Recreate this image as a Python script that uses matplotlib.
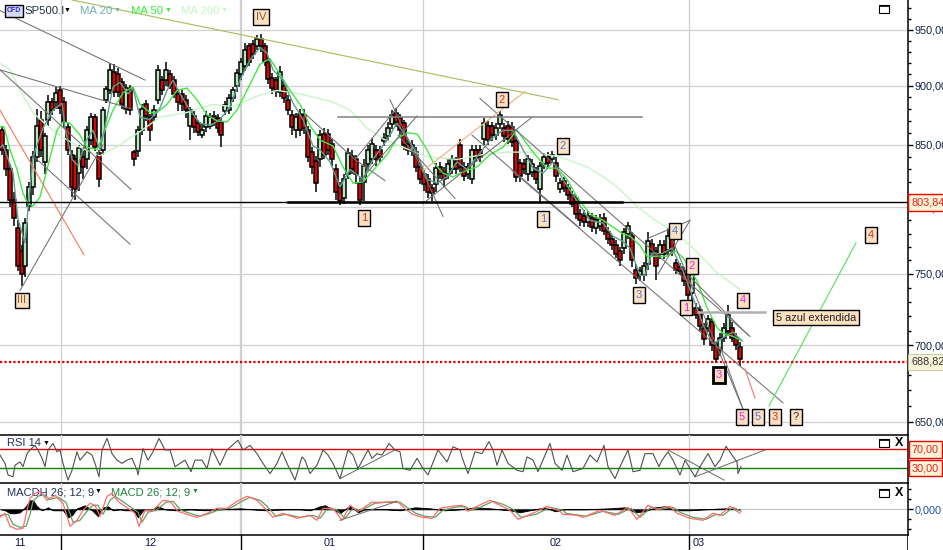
import matplotlib
matplotlib.use("Agg")
import matplotlib.pyplot as plt
from matplotlib.patches import Rectangle

plt.rcParams["font.family"] = ["Liberation Sans", "DejaVu Sans"]

W, H = 943, 550

# candles
bar_t = [2, 6, 10, 14, 18, 22, 25, 29, 33, 37, 41, 45, 48, 52, 56, 60, 64, 68, 72, 75,
         79, 83, 87, 91, 95, 99, 103, 106, 110, 114, 118, 122, 126, 130, 134, 138, 142, 146, 150, 154,
         158, 162, 166, 170, 174, 178, 182, 186, 190, 194, 198, 202, 206, 210, 214, 218, 221, 225, 229, 233,
         237, 241, 245, 249, 253, 257, 261, 265, 268, 272, 276, 280, 284, 288, 292, 296, 300, 304, 308, 312,
         316, 320, 324, 328, 332, 336, 340, 344, 348, 352, 356, 360, 364, 368, 372, 376, 380, 384, 388, 392,
         396, 400, 404, 408, 412, 416, 420, 424, 428, 432, 436, 440, 444, 448, 452, 456, 460, 464, 468, 472,
         476, 480, 484, 488, 492, 496, 500, 504, 508, 512, 516, 520, 524, 528, 532, 536, 540, 544, 548, 552,
         556, 560, 564, 568, 572, 576, 580, 584, 588, 592, 596, 600, 604, 608, 612, 616, 620, 624, 628, 632,
         636, 640, 644, 648, 652, 656, 660, 664, 668, 672, 676, 680, 684, 688, 692, 696, 700, 704, 708, 712,
         716, 720, 724, 728, 732, 736, 740]
bar_open = [862, 846, 830, 806, 784, 767, 756, 801, 816, 840, 871, 836, 871, 886, 886, 896, 886, 865, 842, 838,
            827, 840, 838, 854, 873, 843, 846, 888, 896, 912, 910, 903, 880, 897, 844, 845, 862, 884, 873, 873,
            888, 905, 905, 910, 905, 893, 893, 888, 866, 874, 868, 858, 865, 866, 874, 872, 869, 878, 879, 889,
            900, 910, 917, 935, 937, 935, 942, 935, 921, 907, 905, 895, 900, 888, 875, 862, 876, 875, 862, 844,
            837, 838, 859, 859, 851, 830, 816, 807, 826, 841, 838, 819, 820, 834, 838, 846, 846, 853, 857, 867,
            877, 872, 868, 851, 845, 844, 832, 826, 822, 815, 818, 832, 828, 826, 830, 836, 850, 832, 826, 822,
            846, 846, 855, 866, 866, 858, 867, 864, 866, 865, 853, 835, 834, 826, 828, 828, 814, 834, 840, 838,
            835, 814, 821, 815, 810, 807, 795, 793, 789, 792, 784, 786, 792, 781, 776, 771, 767, 769, 780, 778,
            753, 749, 749, 757, 772, 767, 765, 771, 768, 776, 758, 755, 752, 749, 736, 726, 724, 712, 712, 716,
            700, 697, 705, 710, 712, 705, 699]
bar_close = [846, 830, 806, 792, 756, 750, 788, 816, 840, 866, 846, 857, 886, 879, 894, 881, 869, 846, 816, 814,
             847, 832, 862, 873, 848, 822, 879, 897, 914, 895, 895, 884, 898, 879, 838, 862, 880, 874, 862, 879,
             914, 896, 914, 900, 893, 886, 884, 879, 879, 865, 861, 862, 874, 873, 869, 864, 858, 883, 889, 896,
             911, 921, 932, 921, 928, 942, 935, 921, 906, 898, 896, 912, 889, 879, 865, 873, 862, 864, 840, 832,
             819, 858, 842, 846, 838, 812, 805, 822, 843, 830, 826, 806, 833, 846, 851, 838, 840, 856, 864, 875,
             869, 862, 850, 846, 850, 832, 822, 818, 812, 811, 831, 826, 822, 834, 838, 830, 832, 825, 832, 846,
             839, 840, 868, 854, 858, 864, 875, 857, 855, 852, 824, 825, 830, 838, 834, 822, 833, 840, 835, 842,
             825, 819, 815, 810, 803, 795, 790, 789, 793, 785, 790, 791, 782, 776, 771, 765, 760, 781, 786, 760,
             747, 752, 756, 774, 767, 756, 771, 765, 778, 767, 753, 752, 745, 735, 751, 721, 713, 704, 718, 700,
             691, 705, 712, 721, 705, 700, 691]
bar_high = [866, 850, 834, 812, 790, 771, 792, 820, 845, 880, 878, 860, 892, 889, 899, 900, 890, 868, 846, 842,
            850, 845, 866, 877, 876, 846, 882, 900, 920, 919, 916, 907, 902, 901, 846, 866, 884, 888, 876, 883,
            918, 909, 921, 914, 909, 897, 897, 892, 882, 878, 871, 868, 878, 877, 878, 876, 872, 887, 893, 899,
            915, 925, 938, 938, 941, 945, 946, 938, 925, 911, 908, 917, 903, 892, 879, 877, 880, 880, 866, 848,
            841, 862, 864, 863, 855, 834, 820, 826, 847, 846, 842, 824, 838, 850, 856, 850, 849, 860, 869, 879,
            881, 876, 871, 855, 854, 848, 836, 830, 826, 818, 835, 836, 832, 838, 842, 840, 855, 836, 835, 850,
            850, 850, 872, 870, 869, 868, 878, 868, 870, 869, 857, 838, 838, 842, 838, 832, 836, 843, 844, 845,
            840, 823, 824, 818, 813, 810, 799, 798, 797, 796, 794, 795, 796, 785, 779, 775, 770, 784, 789, 781,
            757, 755, 759, 781, 776, 770, 775, 775, 784, 780, 761, 758, 755, 752, 755, 729, 727, 715, 721, 719,
            702, 708, 715, 728, 716, 708, 702]
bar_low = [842, 825, 800, 786, 752, 741, 748, 797, 810, 836, 840, 826, 866, 875, 880, 876, 864, 842, 808, 806,
           813, 822, 830, 850, 845, 816, 842, 885, 893, 890, 890, 880, 876, 875, 833, 840, 858, 870, 853, 870,
           884, 892, 900, 897, 889, 878, 878, 872, 854, 860, 857, 856, 861, 863, 866, 860, 848, 875, 876, 886,
           895, 905, 913, 917, 924, 932, 930, 917, 902, 893, 890, 890, 885, 875, 858, 856, 857, 859, 836, 826,
           812, 832, 838, 842, 833, 806, 802, 803, 822, 826, 818, 802, 805, 829, 834, 833, 836, 849, 853, 863,
           865, 858, 846, 842, 841, 828, 818, 813, 807, 805, 812, 822, 816, 822, 826, 826, 828, 821, 822, 818,
           836, 836, 850, 850, 853, 854, 863, 852, 851, 848, 820, 820, 826, 821, 824, 818, 804, 830, 832, 835,
           820, 811, 812, 806, 800, 791, 786, 785, 785, 781, 780, 782, 779, 772, 768, 762, 756, 765, 776, 755,
           743, 745, 745, 753, 763, 746, 761, 761, 764, 763, 750, 749, 741, 727, 730, 718, 710, 700, 709, 696,
           688, 693, 702, 707, 702, 697, 686]

ma50_t = [0, 4, 10, 17, 23, 28, 33, 40, 47, 57, 63, 70, 80, 87, 97, 103, 113, 123, 133, 140, 150, 157, 167, 177, 187,
          197, 207, 217, 227, 237, 247, 260, 270, 280, 290, 300, 310, 320, 333, 343, 353, 363, 373, 387, 397, 407, 417,
          427, 433, 443, 453, 463, 477, 490, 503, 517, 533, 547, 557, 567, 577, 590, 603, 613, 622, 630, 640, 647, 657,
          667, 675, 683, 697, 707, 717, 723, 733, 742]
ma50 = [865, 865, 846, 830, 811, 803, 801, 808, 830, 862, 869, 868, 858, 848, 846, 858, 879, 894, 899, 884, 877, 877, 884, 896, 898,
        888, 875, 870, 869, 879, 896, 919, 924, 910, 896, 884, 866, 854, 849, 832, 819, 820, 829, 842, 855, 860, 859,
        846, 836, 827, 824, 828, 832, 842, 848, 862, 844, 831, 831, 822, 808, 795, 790, 785, 780, 778, 771, 763, 763,
        763, 767, 762, 745, 726, 712, 708, 706, 703]

ma20_t = [0, 3, 13, 18, 25, 28, 33, 43, 53, 62, 65, 72, 78, 85, 93, 100, 107, 113, 120, 128, 133, 140, 150, 160, 167,
          173, 180, 190, 200, 210, 220, 230, 240, 250, 260, 267, 273, 283, 293, 303, 313, 320, 330, 340, 350, 363, 373,
          387, 397, 407, 417, 427, 437, 447, 457, 467, 477, 490, 503, 513, 523, 533, 543, 553, 563, 577, 590, 603, 613,
          623, 630, 640, 645, 652, 662, 672, 683, 693, 703, 713, 723, 733, 742]
ma20 = [848, 850, 827, 791, 773, 799, 840, 864, 879, 885, 864, 838, 833, 852, 862, 846, 873, 899, 903, 893, 898, 873, 871, 881, 896,
        905, 893, 879, 868, 866, 871, 882, 905, 923, 934, 929, 914, 905, 885, 871, 849, 846, 836, 816, 830, 822, 838,
        854, 868, 856, 843, 822, 819, 824, 836, 830, 840, 854, 862, 862, 846, 831, 827, 836, 822, 805, 790, 788, 778,
        774, 769, 749, 749, 765, 765, 769, 752, 733, 714, 701, 705, 709, 703]

ma200_t = [0, 10, 20, 33, 47, 63, 80, 100, 120, 140, 160, 187, 213, 233, 257, 277, 300, 333, 350, 367, 383, 403, 427, 457, 483,
           507, 533, 560, 587, 607, 620, 637, 653, 673, 693, 717, 740]
ma200 = [920, 914, 896, 877, 866, 856, 848, 841, 850, 861, 873, 877, 884, 882, 891, 896, 893, 886, 879, 864, 855, 848, 840, 838, 842,
         844, 844, 840, 832, 822, 814, 801, 791, 782, 769, 751, 739]

rsi_t = [0, 5, 8, 13, 15, 20, 23, 27, 30, 35, 38, 42, 45, 48, 53, 57, 60, 63, 68, 72, 77, 80, 87, 92, 95, 99, 102, 107, 112, 117,
         122, 127, 132, 137, 138, 143, 148, 153, 159, 165, 170, 175, 180, 185, 191, 195, 202, 207, 212, 220, 227, 238, 243, 250,
         257, 263, 270, 277, 282, 287, 295, 302, 305, 310, 317, 323, 328, 333, 340, 348, 353, 358, 368, 372, 377, 382, 389, 395,
         400, 403, 410, 417, 423, 428, 438, 447, 453, 460, 463, 468, 475, 482, 489, 493, 497, 502, 508, 517, 523, 527, 533, 538,
         550, 555, 562, 567, 573, 583, 590, 597, 604, 608, 615, 620, 628, 633, 640, 645, 653, 659, 662, 668, 673, 680, 685, 690,
         695, 700, 708, 715, 720, 726, 732, 737, 738, 741]
rsi = [58, 40, 15, 11, 36, 43, 33, 61, 69, 79, 69, 51, 33, 69, 83, 65, 69, 40, 4, 25, 65, 47, 65, 58, 40, 11, 69, 94, 61, 47,
       40, 47, 51, 25, 15, 72, 47, 65, 94, 69, 69, 33, 40, 47, 22, 47, 47, 29, 72, 36, 69, 90, 69, 79,
       61, 40, 18, 40, 65, 40, 4, 54, 47, 18, 36, 69, 58, 40, 7, 69, 58, 29, 69, 51, 61, 58, 83, 69,
       65, 29, 25, 51, 29, 15, 69, 43, 76, 69, 47, 18, 65, 61, 87, 69, 36, 69, 40, 25, 22, 54, 47, 22,
       83, 40, 25, 58, 22, 29, 58, 43, 79, 33, 7, 33, 69, 22, 25, 61, 61, 33, 47, 65, 47, 15, 47, 29,
       11, 33, 61, 33, 47, 77, 58, 43, 18, 33]

macd_t = [0, 5, 10, 17, 23, 27, 30, 35, 40, 47, 55, 63, 70, 77, 83, 90, 95, 100, 107, 112, 118, 128, 135, 139, 145, 153,
          163, 170, 178, 190, 197, 207, 217, 227, 237, 247, 257, 263, 273, 283, 297, 310, 317, 323, 333, 342, 350, 358, 372,
          383, 397, 407, 413, 422, 432, 440, 452, 462, 468, 477, 490, 500, 510, 518, 533, 547, 560, 563, 577, 583, 600, 615,
          628, 637, 648, 657, 670, 677, 690, 703, 713, 720, 730, 740]
macd = [-8, -4, -17, -20, -19, -1, 11, 16, 18, 9, 14, 6, -17, -11, -1, 6, 4, -7, 13, 16, 8, 1, -4, -17, -1, -1,
        9, 8, -2, -6, -8, -4, 1, 1, 8, 13, 9, 3, -8, -4, -9, -6, -11, 1, 1, -11, 4, -2, 7,
        7, 8, -1, -5, -8, -9, 1, 3, 4, -2, 3, 9, 4, -1, -10, -4, 3, -2, -5, -6, -8, -1, -6,
        2, -10, 4, 0, 3, -4, -9, -11, -4, -6, 3, -4]

signal_t = [0, 8, 13, 20, 26, 30, 33, 38, 43, 50, 58, 66, 73, 80, 86, 93, 98, 103, 110, 115, 121, 131, 138, 142, 148, 156,
            166, 173, 181, 193, 200, 210, 220, 230, 240, 250, 260, 266, 276, 286, 300, 313, 320, 326, 336, 345, 353, 361, 375,
            386, 400, 410, 416, 425, 435, 443, 455, 465, 471, 480, 493, 503, 513, 521, 536, 550, 563, 566, 580, 586, 603, 618,
            631, 640, 651, 660, 673, 680, 693, 706, 716, 723, 733, 741]
signal = [-6, -5, -15, -18, -17, -5, 8, 13, 15, 10, 12, 7, -13, -11, -3, 4, 4, -5, 9, 13, 9, 2, -3, -13, -3, -1,
          7, 8, -1, -5, -7, -4, 0, 1, 7, 12, 9, 4, -7, -5, -8, -6, -9, -1, 0, -9, 1, -1, 6,
          7, 7, 0, -4, -7, -8, -1, 2, 3, -1, 2, 8, 5, 0, -8, -5, 2, -1, -4, -6, -7, -2, -5,
          1, -8, 2, 0, 2, -3, -8, -10, -5, -6, 2, -2]

hist_t = [0, 5, 10, 15, 20, 25, 30, 33, 37, 42, 48, 53, 63, 68, 72, 77, 85, 92, 98, 103, 108, 113, 120, 125, 133, 138, 143, 150,
          158, 165, 175, 190, 205, 220, 240, 265, 285, 300, 310, 320, 325, 333, 340, 345, 350, 358, 365, 385, 400, 415, 430, 445, 460,
          475, 490, 510, 520, 530, 545, 555, 565, 585, 610, 625, 635, 645, 655, 665, 675, 690, 705, 725, 740]
hist = [0, -1, -4, -4, -3, 2, 9, 9, 3, -1, 2, -1, -1, -8, -6, 1, 4, -1, -7, 2, 3, -1, 0, -1, -1, -8, -1, -1,
        3, 0, -1, 0, -1, 0, 1, -1, 0, 0, -1, 3, 4, 0, -4, 0, 4, -3, 0, 0, -1, 2, 1, -1, 0,
        2, 1, -1, -3, -1, 2, -2, 0, 0, 1, 2, -3, -2, 2, 3, -1, -1, 0, 1, 0]

# trend lines: x0, price0, x1, price1
gray_lines = [(0, 968, 145, 905), (0, 914, 132, 880), (0, 914, 131, 814), (33, 841, 130, 772), (20, 738, 103, 850),
              (305, 876, 355, 838), (355, 838, 412, 897), (360, 821, 417, 874), (355, 838, 385, 821), (390, 888, 443, 793),
              (398, 858, 455, 807), (423, 803, 532, 873), (472, 858, 580, 784), (480, 889, 750, 706), (512, 829, 783, 662),
              (647, 776, 690, 790), (690, 790, 658, 750), (672, 776, 743, 658), (687, 750, 748, 707), (720, 699, 743, 658)]
color_lines = [((0, 879, 84, 764), "#f08060"), ((72, 978, 558, 888), "#a8c060"), ((423, 829, 525, 895), "#f4b080"),
               ((745, 684, 755, 665), "#f08080"), ((769, 660, 856, 773), "#60e060")]

# wave labels: x, price, text, colour
wave_labels = [(261, 962, "IV", "#806040"), (22, 731, "III", "#806040"), (364, 792, "1", "#e03030"), (543, 791, "1", "#4a7ae0"),
               (502, 888, "2", "#e03030"), (563, 849, "2", "#4a7ae0"), (639, 735, "3", "#4a7ae0"), (675, 782, "4", "#2a7ae0"),
               (692, 756, "2", "#f020f0"), (686, 726, "1", "#f020f0"), (743, 731, "4", "#f020f0"), (742, 653, "5", "#f020f0"),
               (758, 653, "5", "#4a7ae0"), (775, 653, "3", "#e03030"), (796, 653, "?", "#303030"), (871, 779, "4", "#e03030")]

price_ticks = [650, 700, 750, 800, 850, 900, 950]
minor_ticks = [650 + 10 * i for i in range(33)]
month_ticks = [61, 241, 423, 689]
month_labels = [(20, "11"), (150, "12"), (330, "01"), (556, "02"), (699, "03")]


def panel(top, bottom):
    a = fig.add_axes([0, 1 - bottom / H, 908 / W, (bottom - top) / H])
    a.set_xlim(0, 908)
    a.patch.set_alpha(0)
    for s in ["top", "left"]:
        a.spines[s].set_visible(False)
    for s in ["right", "bottom"]:
        a.spines[s].set_linewidth(1.1)
    a.set_xticks([])
    a.yaxis.tick_right()
    return a


def month_grid(a):
    for x in month_ticks:
        a.axvline(x, color="#cfcfcf", lw=1.7 if x == 241 else 0.9, zorder=0)


def window_icons(y, with_x=True):
    # little maximise / close buttons of the platform
    fig.add_artist(Rectangle((879 / W, 1 - (y + 4) / H), 10 / W, 8 / H, transform=fig.transFigure,
                             fc="white", ec="black", lw=0.8))
    fig.add_artist(Rectangle((879 / W, 1 - (y - 3) / H), 10 / W, 1 / H, transform=fig.transFigure,
                             fc="black", ec="black", lw=0.5))
    if with_x:
        fig.text(899 / W, 1 - y / H, "X", fontsize=9, fontweight="bold", ha="center", va="center")


fig = plt.figure(figsize=(W / 100, H / 100), dpi=100)

# price panel
ax = panel(0, 434.5)
ax.set_yscale("log")
ax.set_ylim(642, 978)
ax.set_yticks(price_ticks)
ax.set_yticklabels(["%d,00" % p for p in price_ticks], fontsize=7.8, color="#102040")
ax.set_yticks(minor_ticks, minor=True)
ax.yaxis.set_minor_formatter(plt.NullFormatter())
ax.tick_params(axis="y", which="major", length=3.6, width=1, pad=1)
ax.tick_params(axis="y", which="minor", length=2.2, width=1)
ax.grid(axis="y", which="major", color="#d0d0d0", lw=0.9)
ax.set_axisbelow(True)
month_grid(ax)

ax.vlines(bar_t, bar_low, bar_high, color="black", lw=1.1, zorder=2)
for t, o, c in zip(bar_t, bar_open, bar_close):
    ax.bar(t, abs(c - o), bottom=min(o, c), width=3.4, color="#e00000" if c < o else "#b8e8b8",
           edgecolor="black", lw=1.1, zorder=3)

ax.plot(ma200_t, ma200, color="#c8f5c8", lw=1, zorder=4)
ax.plot(ma50_t, ma50, color="#40e840", lw=1, zorder=5)
ax.plot(ma20_t, ma20, color="#5f9f8f", lw=1, zorder=5)

for x0, p0, x1, p1 in gray_lines:
    ax.plot([x0, x1], [p0, p1], color="#707070", lw=0.75, zorder=6)
for (x0, p0, x1, p1), col in color_lines:
    ax.plot([x0, x1], [p0, p1], color=col, lw=0.85, zorder=6)

ax.axhline(803.84, color="black", lw=1, zorder=6)
ax.plot([288, 622], [803.84, 803.84], color="black", lw=1.8, zorder=6)
ax.plot([338, 642], [873, 873], color="#808080", lw=1.1, zorder=6)
ax.plot([698, 765], [723, 723], color="#b0b0b0", lw=1.8, zorder=6)
ax.axhline(688.82, color="#e00000", lw=1.6, ls=(0, (1, 1)), zorder=6)

box = dict(boxstyle="square,pad=0.25", fc="#fde0c0", ec="black", lw=1)
for x, p, s, col in wave_labels:
    ax.text(x, p, s, color=col, fontsize=8, ha="center", va="center", bbox=box, zorder=8)
ax.text(719, 680, "3", color="#f020f0", fontsize=8, ha="center", va="center", zorder=8,
        bbox=dict(boxstyle="square,pad=0.25", fc="#fde0c0", ec="black", lw=2))
ax.text(816, 719, "5 azul extendida", color="#202020", fontsize=7.8, ha="center", va="center", bbox=box, zorder=8)

ax.text(911, 803.84, "803,84", color="#f02020", fontsize=7.8, va="center", clip_on=False, zorder=9,
        bbox=dict(boxstyle="square,pad=0.3", fc="#f8f4d8", ec="#f00000", lw=1))
ax.text(911, 688.82, "688,82", color="#303030", fontsize=7.8, va="center", clip_on=False,
        bbox=dict(boxstyle="square,pad=0.3", fc="#f8f4d8", ec="#c0c0a0", lw=0.6))

# header of the price panel
fig.text(14 / W, 1 - 11 / H, "CFD", color="#3030d0", fontsize=5, fontweight="bold", ha="center", va="center",
         bbox=dict(boxstyle="square,pad=0.3", fc="#d8d8f8", ec="black", lw=1))
fig.text(24 / W, 1 - 11 / H, "SP500.I", color="#203040", fontsize=8.2, va="center")
fig.text(67 / W, 1 - 10 / H, "▼", color="black", fontsize=5, ha="center", va="center")
fig.text(80 / W, 1 - 11 / H, "MA 20", color="#70b0b0", fontsize=8.2, va="center")
fig.text(117 / W, 1 - 10 / H, "▼", color="#70b0b0", fontsize=5, ha="center", va="center")
fig.text(131 / W, 1 - 11 / H, "MA 50", color="#30f030", fontsize=8.2, va="center")
fig.text(168 / W, 1 - 10 / H, "▼", color="#30f030", fontsize=5, ha="center", va="center")
fig.text(181 / W, 1 - 11 / H, "MA 200", color="#c8f5c8", fontsize=8.2, va="center")
fig.text(224 / W, 1 - 10 / H, "▼", color="#c8f5c8", fontsize=5, ha="center", va="center")
window_icons(9, with_x=False)

# RSI panel
ax_rsi = panel(434.5, 483)
ax_rsi.set_ylim(-2.4, 102.4)
ax_rsi.set_yticks([])
month_grid(ax_rsi)
ax_rsi.axhline(70, color="#e00000", lw=1)
ax_rsi.axhline(30, color="#008000", lw=1)
ax_rsi.plot(rsi_t, rsi, color="#505050", lw=0.8, zorder=3)
ax_rsi.plot([340, 395], [7, 69], color="#707070", lw=0.75)
ax_rsi.plot([668, 724], [69, 4], color="#707070", lw=0.75)
ax_rsi.plot([695, 765], [11, 69], color="#707070", lw=0.75)
ax_rsi.text(7, 83, "RSI 14", color="#203060", fontsize=8, va="center")
ax_rsi.text(46, 84, "▼", color="black", fontsize=5, ha="center", va="center")
rsi_box = dict(boxstyle="square,pad=0.3", fc="#f8f4d8", ec="#f00000", lw=1)
ax_rsi.text(912, 70, "70,00", color="#f02020", fontsize=7.8, va="center", clip_on=False, bbox=rsi_box)
ax_rsi.text(912, 30, "30,00", color="#f02020", fontsize=7.8, va="center", clip_on=False, bbox=rsi_box)
window_icons(443)

# MACD panel
ax_macd = panel(483, 535)
ax_macd.set_ylim(-25.7, 26.3)
month_grid(ax_macd)
ax_macd.set_yticks([0])
ax_macd.set_yticklabels(["0,000"], fontsize=7.8, color="#2050a0")
ax_macd.set_yticks([-20, -10, 10, 20], minor=True)
ax_macd.tick_params(axis="y", which="major", length=3.6, width=1, pad=1)
ax_macd.tick_params(axis="y", which="minor", length=2.2, width=1)
ax_macd.axhline(0, color="#c8c8c8", lw=0.9, zorder=1)
ax_macd.fill_between(hist_t, hist, 0, color="black", lw=0.6, zorder=2)
ax_macd.plot(signal_t, signal, color="#60a060", lw=0.9, zorder=3)
ax_macd.plot(macd_t, macd, color="#ff6a6a", lw=0.9, zorder=4)
ax_macd.plot([340, 397], [-11, 8], color="#707070", lw=0.75, zorder=5)
ax_macd.text(7, 17, "MACDH 26; 12; 9", color="#203060", fontsize=8, va="center")
ax_macd.text(98, 18, "▼", color="black", fontsize=5, ha="center", va="center")
ax_macd.text(111, 17, "MACD 26; 12; 9", color="#208040", fontsize=8, va="center")
ax_macd.text(195, 18, "▼", color="#208040", fontsize=5, ha="center", va="center")
window_icons(493)

# date strip
ax_date = fig.add_axes([0, 0, 908 / W, 15 / H])
ax_date.set_xlim(0, 908)
ax_date.set_ylim(0, 1)
ax_date.axis("off")
for x in month_ticks:
    ax_date.plot([x, x], [0, 1], color="black", lw=1)
ax_date.plot([908, 908], [0, 1], color="black", lw=1.1)
for x, s in month_labels:
    ax_date.text(x, 0.45, s, color="#101850", fontsize=7.8, ha="center", va="center")

fig.savefig("out.png", dpi=100)
